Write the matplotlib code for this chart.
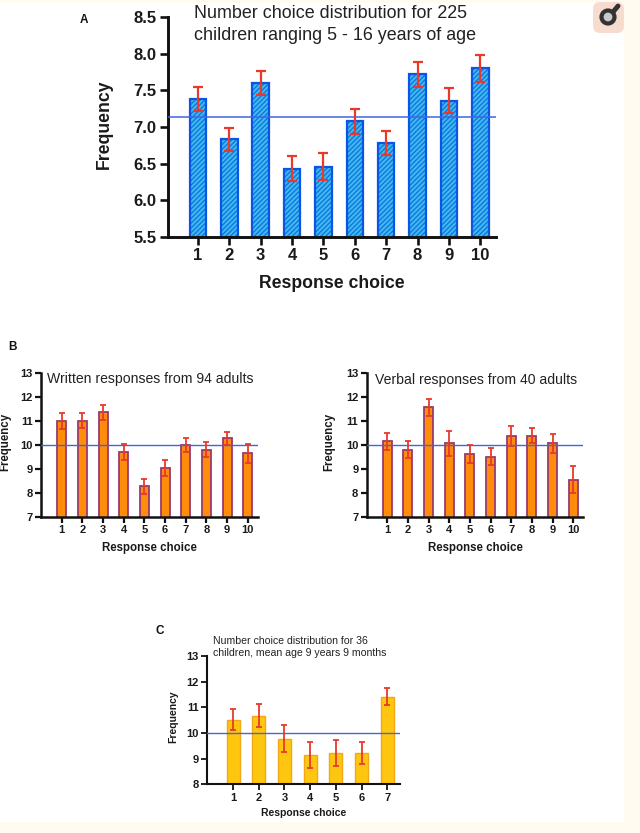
import matplotlib
matplotlib.use('Agg')
import matplotlib.pyplot as plt
from matplotlib.patches import Rectangle, Circle, FancyBboxPatch

plt.rcParams['font.family'] = ['Liberation Sans', 'DejaVu Sans']
plt.rcParams['hatch.linewidth'] = 1.0

W, H = 640, 833

# panel A
a_choices = [1, 2, 3, 4, 5, 6, 7, 8, 9, 10]
a_values = [7.38, 6.83, 7.60, 6.43, 6.46, 7.08, 6.78, 7.72, 7.36, 7.80]
a_errors = [0.16, 0.16, 0.17, 0.17, 0.18, 0.17, 0.16, 0.17, 0.17, 0.18]
a_mean = 7.13
a_ticks = [5.5, 6.0, 6.5, 7.0, 7.5, 8.0, 8.5]

# panel B, written
w_choices = [1, 2, 3, 4, 5, 6, 7, 8, 9, 10]
w_values = [11.0, 11.0, 11.35, 9.7, 8.27, 9.03, 10.0, 9.8, 10.27, 9.65]
w_errors = [0.33, 0.32, 0.32, 0.35, 0.30, 0.34, 0.30, 0.32, 0.26, 0.40]

# panel B, verbal
v_choices = [1, 2, 3, 4, 5, 6, 7, 8, 9, 10]
v_values = [10.15, 9.8, 11.55, 10.05, 9.6, 9.5, 10.37, 10.37, 10.05, 8.55]
v_errors = [0.35, 0.35, 0.35, 0.50, 0.38, 0.36, 0.43, 0.31, 0.40, 0.55]

b_mean = 10
b_ticks = [7, 8, 9, 10, 11, 12, 13]

# panel C
c_choices = [1, 2, 3, 4, 5, 6, 7]
c_values = [10.52, 10.68, 9.78, 9.13, 9.22, 9.22, 11.42]
c_errors = [0.42, 0.45, 0.52, 0.51, 0.49, 0.42, 0.32]
c_mean = 10
c_ticks = [8, 9, 10, 11, 12, 13]


def fx(px):
	return px / W


def fy(py):
	return 1 - py / H


def panel(left, right, top, bottom, x1, xn, choices, values, errors, mean, yticks,
		bar_px, face, edge, hatch, hatch_color, lw, err_lw, cap, tick_fs, label_fs, xlabel_pad, ylabel_x, tick_len,
		mean_color='#3f66e0', mean_lw=1.0):
	ax = fig.add_axes([fx(left), fy(bottom), fx(right - left), (bottom - top) / H])
	ax.patch.set_alpha(0)
	step = (xn - x1) / (choices[-1] - 1)
	ax.set_xlim(1 - (x1 - left) / step, choices[-1] + (right - xn) / step)
	ax.set_ylim(yticks[0], yticks[-1])
	if hatch:
		# Schraffur zuerst, Umriss darueber
		ax.bar(choices, values, width=bar_px / step, color=face, edgecolor=hatch_color, linewidth=0, hatch=hatch, zorder=2)
		ax.bar(choices, values, width=bar_px / step, color='none', edgecolor=edge, linewidth=lw, zorder=2)
	else:
		ax.bar(choices, values, width=bar_px / step, color=face, edgecolor=edge, linewidth=lw, zorder=2)
	ax.axhline(mean, color=mean_color, lw=mean_lw, zorder=3)
	ax.errorbar(choices, values, yerr=errors, fmt='none', ecolor='#e8392b', elinewidth=err_lw,
		capsize=cap, capthick=err_lw, zorder=4)
	for s in ['top', 'right']:
		ax.spines[s].set_visible(False)
	for s in ['left', 'bottom']:
		ax.spines[s].set_linewidth(lw + 0.5)
		ax.spines[s].set_color('#111111')
	ax.set_xticks(choices)
	ax.set_yticks(yticks)
	if yticks[0] == 5.5:
		ax.set_yticklabels(['%.1f' % t for t in yticks])
	ax.tick_params(axis='both', length=tick_len, width=lw + 0.3, color='#111111', pad=2, labelsize=tick_fs)
	for t in ax.get_xticklabels() + ax.get_yticklabels():
		t.set_fontweight('bold')
		t.set_color('#1a1a1a')
	fig.text(fx((left + right) / 2), fy(bottom + xlabel_pad), 'Response choice', fontsize=label_fs,
		fontweight='bold', color='#1a1a1a', ha='center', va='center')
	fig.text(fx(ylabel_x), fy((top + bottom) / 2 - 3), 'Frequency', fontsize=label_fs, fontweight='bold',
		color='#1a1a1a', rotation=90, ha='center', va='center')
	return ax


fig = plt.figure(figsize=(W / 100, H / 100), dpi=100, facecolor='white')

# kremfarbener Seitenrand
bg = fig.add_axes([0, 0, 1, 1], zorder=-1)
bg.set_xlim(0, W)
bg.set_ylim(H, 0)
bg.axis('off')
bg.add_patch(Rectangle((624, 0), 16, H, color='#fffbf0', lw=0))
bg.add_patch(Rectangle((0, 0), W, 3, color='#fffbf0', lw=0))
bg.add_patch(Rectangle((0, 822), W, 11, color='#fffbf0', lw=0))
# icon top right
bg.add_patch(FancyBboxPatch((593, 2), 31, 31, boxstyle='round,pad=0,rounding_size=7', fc='#f6dccf', ec='none'))
bg.add_patch(Circle((608, 17), 6.5, fc='#c9c9c9', ec='#333333', lw=3))
bg.plot([613, 618], [12, 6], color='#333333', lw=3.5, solid_capstyle='round')

panel(167.7, 496, 17, 237, 198, 480.3, a_choices, a_values, a_errors, a_mean, a_ticks,
	16.5, '#45b8f0', '#0b55e6', '///////', '#0a7ae0', 1.6, 1.6, 3.8, 12, 12.7, 47, 104, 6, mean_lw=1.1)
panel(41.3, 257.7, 372.7, 517, 61.7, 247.7, w_choices, w_values, w_errors, b_mean, b_ticks,
	9, '#ff8c0a', '#9a3a6e', None, None, 1.3, 1.3, 2.4, 8, 8.3, 31, 5, 4)
panel(366.7, 583.3, 372.7, 516.7, 387.3, 573.3, v_choices, v_values, v_errors, b_mean, b_ticks,
	9, '#ff8c0a', '#9a3a6e', None, None, 1.3, 1.3, 2.4, 8, 8.3, 31, 329, 4)
panel(207.3, 400, 656, 784.3, 233, 387.3, c_choices, c_values, c_errors, c_mean, c_ticks,
	13, '#ffc60f', '#f0a818', None, None, 1.0, 1.3, 2.4, 8, 7.5, 29, 173, 4, mean_color='#4a66d0')

fig.text(fx(80), fy(20), 'A', fontsize=8.5, fontweight='bold', color='#111111', va='center')
fig.text(fx(8), fy(347), 'B', fontsize=8.5, fontweight='bold', color='#111111', va='center')
fig.text(fx(156), fy(631), 'C', fontsize=8.5, fontweight='bold', color='#111111', va='center')

fig.text(fx(194), fy(13), 'Number choice distribution for 225', fontsize=12.9, color='#222222', va='center')
fig.text(fx(194), fy(35), 'children ranging 5 - 16 years of age', fontsize=12.9, color='#222222', va='center')
fig.text(fx(47), fy(379), 'Written responses from 94 adults', fontsize=10.1, color='#222222', va='center')
fig.text(fx(375), fy(380), 'Verbal responses from 40 adults', fontsize=10.1, color='#222222', va='center')
fig.text(fx(213), fy(641), 'Number choice distribution for 36', fontsize=7.6, color='#222222', va='center')
fig.text(fx(213), fy(653), 'children, mean age 9 years 9 months', fontsize=7.6, color='#222222', va='center')

fig.savefig('out.png', dpi=100)
plt.close(fig)
